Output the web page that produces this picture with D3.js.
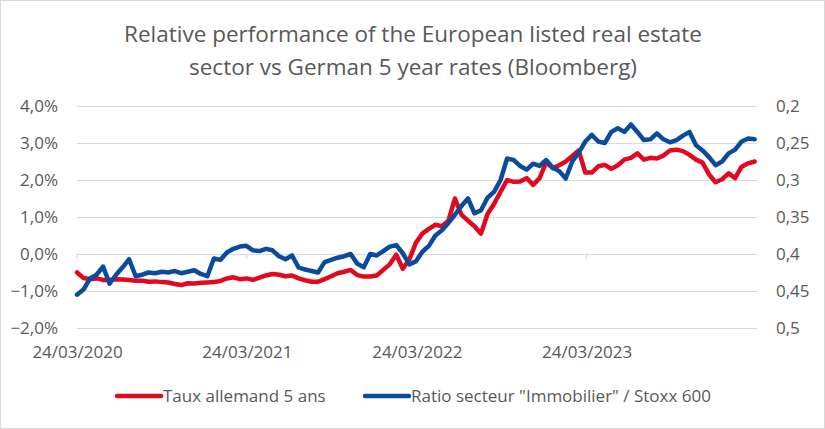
<!DOCTYPE html>
<html>
<head>
<meta charset="utf-8">
<script src="https://cdn.jsdelivr.net/npm/d3@7"></script>
<style>
  body { margin: 0; background: #fff; }
  svg text { font-family: "Open Sans", sans-serif; fill: #595959; }
</style>
</head>
<body>
<svg id="chart" width="825" height="429"></svg>
<script>
// German 5y rate, % (left axis), one reading every 14 days from 24/03/2020
var rate = [
  -0.50, -0.65, -0.68, -0.66, -0.70, -0.70, -0.68, -0.69, -0.70, -0.72,
  -0.72, -0.75, -0.74, -0.76, -0.77, -0.81, -0.84, -0.79, -0.80, -0.78,
  -0.77, -0.76, -0.73, -0.66, -0.63, -0.68, -0.66, -0.70, -0.64, -0.58,
  -0.54, -0.56, -0.60, -0.58, -0.66, -0.71, -0.75, -0.75, -0.68, -0.60,
  -0.52, -0.48, -0.43, -0.57, -0.61, -0.61, -0.58, -0.43, -0.28, -0.02,
  -0.40, -0.15, 0.30, 0.55, 0.68, 0.79, 0.75, 0.90, 1.50, 1.06,
  0.90, 0.75, 0.55, 1.08, 1.35, 1.68, 2.00, 1.95, 1.96, 2.05,
  1.87, 2.05, 2.48, 2.32, 2.40, 2.50, 2.65, 2.80, 2.20, 2.20,
  2.37, 2.41, 2.30, 2.40, 2.55, 2.60, 2.72, 2.55, 2.60, 2.58,
  2.66, 2.80, 2.82, 2.78, 2.68, 2.55, 2.47, 2.15, 1.94, 2.02,
  2.18, 2.05, 2.36, 2.45, 2.50
];

// real estate sector / Stoxx 600 ratio (right axis, inverted), same dates
var ratio = [
  0.455, 0.448, 0.433, 0.428, 0.417, 0.440, 0.428, 0.418, 0.407, 0.430,
  0.428, 0.425, 0.426, 0.424, 0.425, 0.423, 0.426, 0.424, 0.422, 0.427,
  0.430, 0.406, 0.408, 0.398, 0.393, 0.390, 0.389, 0.395, 0.396, 0.393,
  0.395, 0.403, 0.407, 0.402, 0.418, 0.421, 0.423, 0.425, 0.411, 0.408,
  0.405, 0.403, 0.400, 0.413, 0.418, 0.400, 0.402, 0.396, 0.390, 0.388,
  0.399, 0.414, 0.410, 0.397, 0.389, 0.375, 0.368, 0.358, 0.347, 0.335,
  0.325, 0.345, 0.341, 0.324, 0.316, 0.300, 0.271, 0.273, 0.281, 0.286,
  0.278, 0.281, 0.273, 0.283, 0.288, 0.298, 0.275, 0.263, 0.248, 0.239,
  0.248, 0.250, 0.235, 0.230, 0.235, 0.225, 0.235, 0.246, 0.245, 0.237,
  0.245, 0.249, 0.246, 0.240, 0.235, 0.253, 0.260, 0.269, 0.280, 0.275,
  0.264, 0.259, 0.248, 0.244, 0.245
];

var startDate = "2020-03-24";
var stepDays = 14;
var endDate = "2024-03-24";

var xTicks = ["2020-03-24", "2021-03-24", "2022-03-24", "2023-03-24"];
var leftTicks = [-2, -1, 0, 1, 2, 3, 4];
var rightTicks = [0.2, 0.25, 0.3, 0.35, 0.4, 0.45, 0.5];

var titleLines = [
  "Relative performance of the European listed real estate",
  "sector vs German 5 year rates (Bloomberg)"
];
var seriesNames = ["Taux allemand 5 ans", "Ratio secteur \"Immobilier\" / Stoxx 600"];

var red = "#e1081f", blue = "#0b4b9b", grid = "#d9d9d9";

var parse = d3.timeParse("%Y-%m-%d");
var start = parse(startDate);
var dates = rate.map(function(d, i){ return d3.timeDay.offset(start, i * stepDays); });

var fr = d3.formatLocale({decimal: ",", thousands: " ", grouping: [3], currency: ["", " €"]});
var fmtLeft = function(v){ return fr.format(".1f")(v) + "%"; };
var fmtRight = fr.format("~g");
var fmtDate = d3.timeFormat("%d/%m/%Y");

var plot = {left: 77, right: 757, top: 106, bottom: 328};

var x = d3.scaleTime()
  .domain([start, parse(endDate)])
  .range([plot.left, plot.right]);
var yL = d3.scaleLinear().domain([-2, 4]).range([plot.bottom, plot.top]);
var yR = d3.scaleLinear().domain([0.5, 0.2]).range([plot.bottom, plot.top]);

var svg = d3.select("#chart");

svg.append("rect")
  .attr("x", 0.5).attr("y", 0.5)
  .attr("width", 824).attr("height", 428)
  .attr("fill", "#fff").attr("stroke", grid);

// title
svg.append("g").selectAll("text")
  .data(titleLines)
  .join("text")
  .attr("x", 413)
  .attr("y", function(d, i){ return 42 + i * 33; })
  .attr("text-anchor", "middle")
  .style("font-size", "22.5px")
  .text(function(d){ return d; });

// gridlines
svg.append("g").selectAll("line")
  .data(leftTicks)
  .join("line")
  .attr("x1", plot.left).attr("x2", plot.right)
  .attr("y1", function(d){ return yL(d) + 0.5; })
  .attr("y2", function(d){ return yL(d) + 0.5; })
  .attr("stroke", grid).attr("stroke-width", 1.2);

// horizontal axis crosses at 0 with small ticks
svg.append("g").selectAll("line")
  .data(xTicks)
  .join("line")
  .attr("x1", function(d){ return x(parse(d)); })
  .attr("x2", function(d){ return x(parse(d)); })
  .attr("y1", yL(0)).attr("y2", yL(0) + 5)
  .attr("stroke", grid).attr("stroke-width", 1.2);

// axes
var gl = svg.append("g")
  .attr("transform", "translate(" + plot.left + ",0)")
  .call(d3.axisLeft(yL).tickValues(leftTicks).tickSize(0).tickPadding(19).tickFormat(fmtLeft));
var gr = svg.append("g")
  .attr("transform", "translate(" + plot.right + ",0)")
  .call(d3.axisRight(yR).tickValues(rightTicks).tickSize(0).tickPadding(19).tickFormat(fmtRight));
var gb = svg.append("g")
  .attr("transform", "translate(0," + plot.bottom + ")")
  .call(d3.axisBottom(x).tickValues(xTicks.map(parse)).tickSize(0).tickPadding(18).tickFormat(fmtDate));

[gl, gr, gb].forEach(function(g){
  g.select(".domain").remove();
  g.selectAll("text").style("font-size", "17px").attr("fill", "#595959");
});

// lines
var lineRate = d3.line()
  .x(function(d, i){ return x(dates[i]); })
  .y(function(d){ return yL(d); });
var lineRatio = d3.line()
  .x(function(d, i){ return x(dates[i]); })
  .y(function(d){ return yR(d); });

svg.append("path")
  .datum(rate)
  .attr("d", lineRate)
  .attr("fill", "none").attr("stroke", red)
  .attr("stroke-width", 4.5).attr("stroke-linejoin", "round").attr("stroke-linecap", "round");
svg.append("path")
  .datum(ratio)
  .attr("d", lineRatio)
  .attr("fill", "none").attr("stroke", blue)
  .attr("stroke-width", 4.5).attr("stroke-linejoin", "round").attr("stroke-linecap", "round");

// legend
var legend = [
  {name: seriesNames[0], color: red, x: 117},
  {name: seriesNames[1], color: blue, x: 365}
];
var lg = svg.append("g").selectAll("g")
  .data(legend)
  .join("g")
  .attr("transform", function(d){ return "translate(" + d.x + ",396)"; });
lg.append("line")
  .attr("x1", 0).attr("x2", 44)
  .attr("stroke", function(d){ return d.color; })
  .attr("stroke-width", 4.5).attr("stroke-linecap", "round");
lg.append("text")
  .attr("x", 46).attr("dy", "0.35em")
  .style("font-size", "17px")
  .text(function(d){ return d.name; });
</script>
</body>
</html>
